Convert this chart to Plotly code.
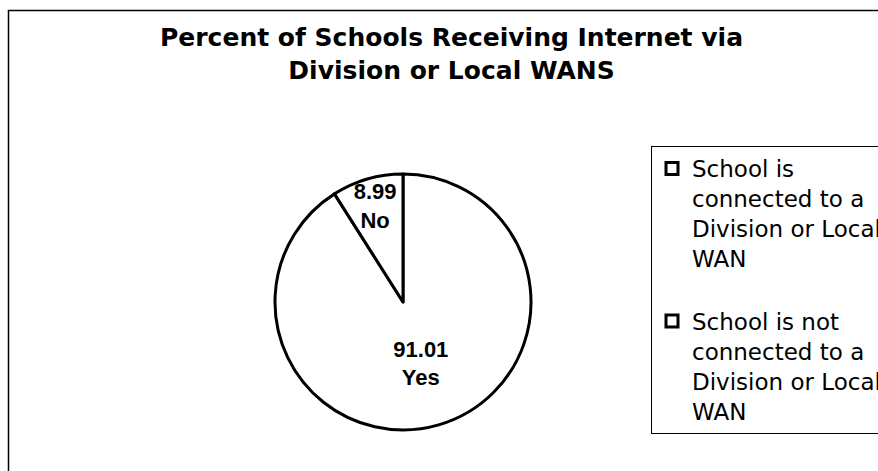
import plotly.graph_objects as go

# Survey result: share of schools by WAN connection status
labels = ["Yes", "No"]
values = [91.01, 8.99]
legend_names = [
    "School is<br>connected to a<br>Division or Local<br>WAN<br> ",
    "School is not<br>connected to a<br>Division or Local<br>WAN",
]
title_text = "Percent of Schools Receiving Internet via<br>Division or Local WANS"

W, H = 878, 471

fig = go.Figure(
    go.Pie(
        labels=legend_names,
        values=values,
        customdata=labels,
        sort=False,
        direction="clockwise",
        rotation=0,
        texttemplate="%{value:.2f}<br>%{customdata}",
        textposition="inside",
        insidetextorientation="horizontal",
        textfont=dict(family="Liberation Sans", size=22, color="black", weight="bold"),
        marker=dict(colors=["white", "white"], line=dict(color="black", width=3)),
        domain=dict(x=[275 / W, 531 / W], y=[1 - 430 / H, 1 - 174 / H]),
        hoverinfo="skip",
    )
)

fig.update_layout(
    width=W,
    height=H,
    margin=dict(l=0, r=0, t=0, b=0, autoexpand=False),
    paper_bgcolor="white",
    plot_bgcolor="white",
    uniformtext=dict(mode="show", minsize=22),
    annotations=[
        dict(
            text=title_text,
            xref="paper",
            yref="paper",
            x=451 / W,
            y=1 - 21 / H,
            xanchor="center",
            yanchor="top",
            showarrow=False,
            font=dict(family="DejaVu Sans", size=25, color="black", weight="bold"),
        )
    ],
    legend=dict(
        x=651 / W,
        xanchor="left",
        y=1 - 146 / H,
        yanchor="top",
        bordercolor="black",
        borderwidth=1,
        bgcolor="white",
        valign="top",
        font=dict(family="DejaVu Sans", size=23, color="black"),
    ),
    shapes=[
        dict(
            type="rect",
            xref="paper",
            yref="paper",
            x0=8.5 / W,
            x1=1.05,
            y0=-0.05,
            y1=1 - 10.5 / H,
            line=dict(color="black", width=1.5),
            fillcolor="rgba(0,0,0,0)",
            layer="below",
        )
    ],
)

fig.write_html("out.html")
